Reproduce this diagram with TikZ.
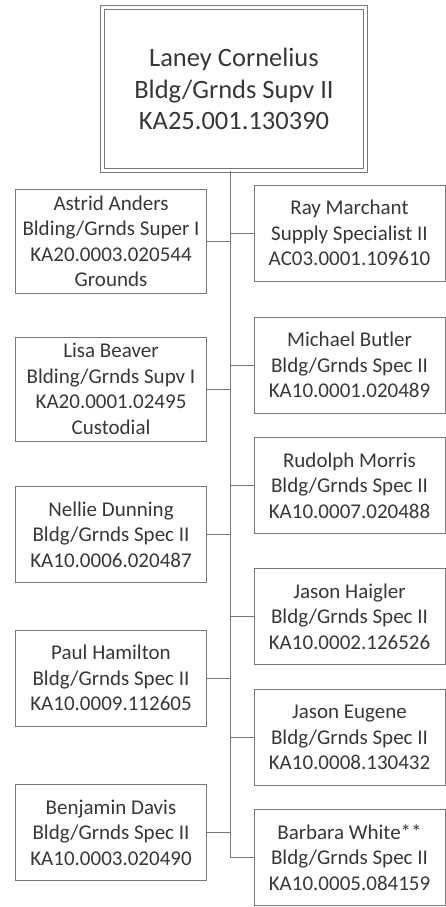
\documentclass[tikz,border=0pt]{standalone}
\usepackage{fontspec}
\setmainfont{Carlito}
\usepackage{tikz}
\usetikzlibrary{arrows}

\definecolor{linegray}{RGB}{120,120,120}
\definecolor{textgray}{RGB}{55,55,55}

\begin{document}
\begin{tikzpicture}[x=1pt, y=-1pt]
		\tikzstyle{chief} = [draw=linegray, line width=0.8pt, double, double distance=3.5pt, text=textgray, align=center, inner sep=0pt, minimum width=263pt, minimum height=163pt, font=\fontsize{26.5}{31.7}\selectfont]
		\tikzstyle{staff} = [draw=linegray, line width=0.7pt, text=textgray, align=center, inner sep=0pt, minimum width=191pt, minimum height=96pt, font=\fontsize{21}{25.5}\selectfont]
		\tikzstyle{tall} = [staff, minimum height=104pt]
		\tikzstyle{link} = [draw=linegray, line width=1pt]

		\useasboundingbox (0,0) rectangle (445,907);

		\path[link]

		node[chief] (laney) at (234,89) {Laney Cornelius\\Bldg/Grnds Supv II\\KA25.001.130390}

		% left column
		node[tall] (astrid) at (111,241.5) {Astrid Anders\\Blding/Grnds Super I\\KA20.0003.020544\\Grounds}
		node[tall] (lisa) at (111,389) {Lisa Beaver\\Blding/Grnds Supv I\\KA20.0001.02495\\Custodial}
		node[staff] (nellie) at (111,534.5) {Nellie Dunning\\Bldg/Grnds Spec II\\KA10.0006.020487}
		node[staff] (paul) at (111,678) {Paul Hamilton\\Bldg/Grnds Spec II\\KA10.0009.112605}
		node[staff] (benjamin) at (111,832.5) {Benjamin Davis\\Bldg/Grnds Spec II\\KA10.0003.020490}

		% right column
		node[staff] (ray) at (349.5,233) {Ray Marchant\\Supply Specialist II\\AC03.0001.109610}
		node[staff] (michael) at (349.5,365) {Michael Butler\\Bldg/Grnds Spec II\\KA10.0001.020489}
		node[staff] (rudolph) at (349.5,485.5) {Rudolph Morris\\Bldg/Grnds Spec II\\KA10.0007.020488}
		node[staff] (haigler) at (349.5,616.5) {Jason Haigler\\Bldg/Grnds Spec II\\KA10.0002.126526}
		node[staff] (eugene) at (349.5,737.5) {Jason Eugene\\Bldg/Grnds Spec II\\KA10.0008.130432}
		node[staff] (barbara) at (349.5,857.5) {Barbara White**\\Bldg/Grnds Spec II\\KA10.0005.084159}

		(laney.south -| 230.5,0) coordinate (trunk)
		(trunk) edge (trunk |- barbara.west)
		(trunk |- barbara.west) edge (barbara.west)

		(astrid.east) edge (astrid.east -| trunk)
		(lisa.east) edge (lisa.east -| trunk)
		(nellie.east) edge (nellie.east -| trunk)
		(paul.east) edge (paul.east -| trunk)
		(benjamin.east) edge (benjamin.east -| trunk)

		(ray.west) edge (ray.west -| trunk)
		(michael.west) edge (michael.west -| trunk)
		(rudolph.west) edge (rudolph.west -| trunk)
		(haigler.west) edge (haigler.west -| trunk)
		(eugene.west) edge (eugene.west -| trunk)
		;

		\end{tikzpicture}
\end{document}
